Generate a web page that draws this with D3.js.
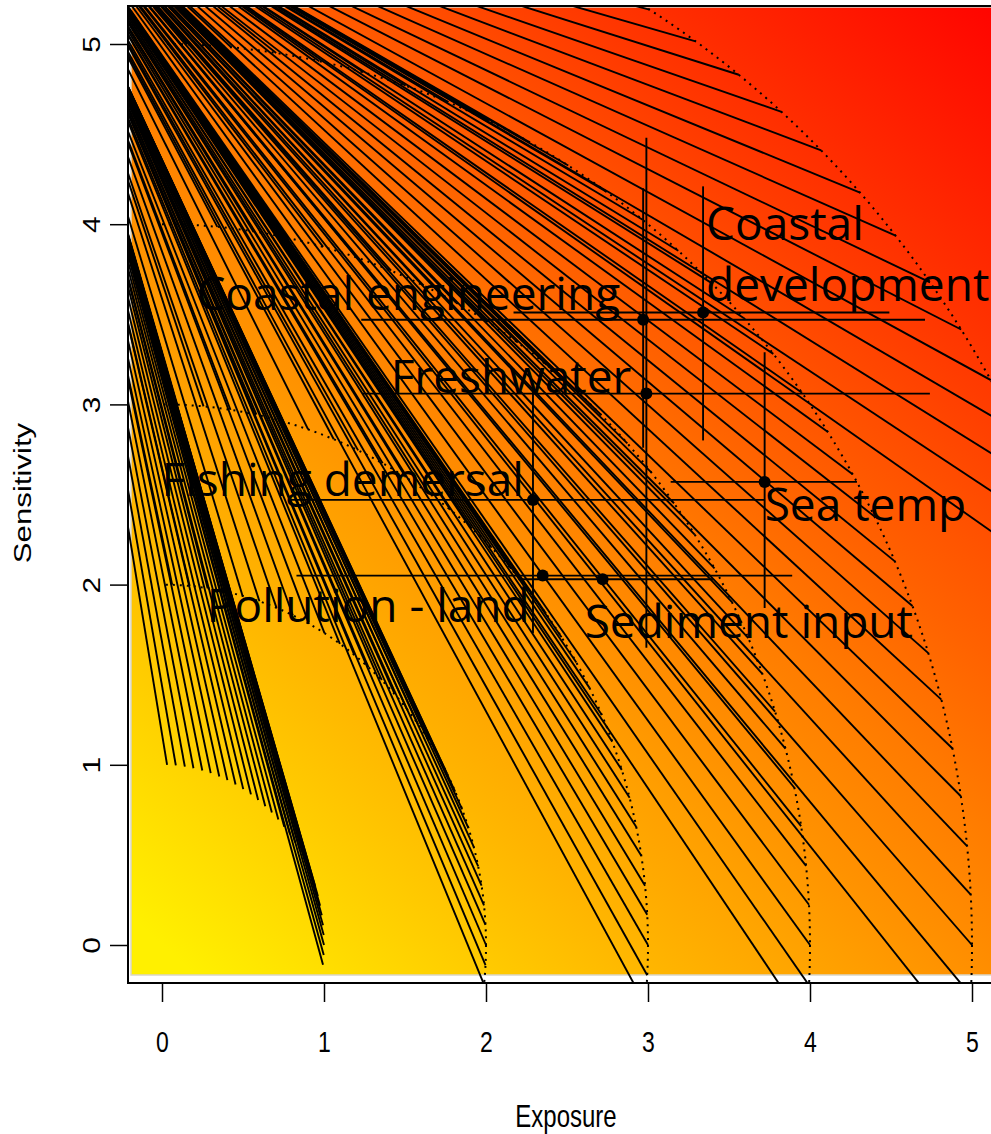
<!DOCTYPE html>
<html>
<head>
<meta charset="utf-8">
<script src="https://cdn.jsdelivr.net/npm/d3@7"></script>
<style>
  body { margin: 0; background: #fff; }
  svg { display: block; }
</style>
</head>
<body>
<svg id="chart" width="991" height="1134"></svg>
<script>
// ---- Pressures: exposure / sensitivity estimates with their ranges ----
const pressures       = ["Coastal engineering", "Coastal development", "Freshwater", "Fishing demersal", "Sea temp", "Pollution - land", "Sediment input"];
const exposure        = [2.97, 3.34, 2.99, 2.29, 3.72, 2.35, 2.72];
const exposureLow     = [1.23, 2.17, 1.24, 0.79, 3.14, 0.83, 2.20];
const exposureHigh    = [4.71, 4.49, 4.74, 3.72, 4.29, 3.89, 3.40];
const sensitivity     = [3.47, 3.51, 3.06, 2.47, 2.57, 2.05, 2.03];
const sensitivityLow  = [2.76, 2.80, 1.65, 1.73, 1.87, 2.05, 2.03];
const sensitivityHigh = [4.20, 4.21, 4.48, 3.09, 3.29, 2.05, 2.03];

// ---- Vulnerability levels (radius in exposure/sensitivity space) ----
const vulnerabilityLevels = [1, 2, 3, 4, 5, 6];
const dottedLevels        = [2, 3, 4, 5, 6];
// Sight lines: from a common origin to points on each level, at these angles (degrees)
const rayOrigin   = [-0.9, 6.1];
const rayAngles   = [-6.3, -3.2, 0.0, 3.2, 6.3, 9.5, 12.6, 15.8, 18.9, 22.1, 25.2, 28.4, 31.5, 34.7, 37.8,
                     41.0, 44.1, 47.3, 50.4, 53.6, 56.7, 59.9, 63.0, 66.2, 69.3, 72.5, 75.6, 78.8, 81.9, 85.1, 88.2];
const rayMinAngle = [-6.3, -6.3, -6.3, -6.3, -6.3, 18.9];

// ---- Axes ----
const xTicks = [0, 1, 2, 3, 4, 5];
const yTicks = [0, 1, 2, 3, 4, 5];
const xTitle = "Exposure";
const yTitle = "Sensitivity";

// ---- Background colour ramp over a weighted exposure + sensitivity score ----
const rampWeights = [0.85, 1.05];           // exposure, sensitivity
const rampStops   = [0, 2.5, 5, 7.5, 10];
const rampColors  = ["#fff000", "#ffb400", "#ff7c00", "#ff3c00", "#ff0000"];

// ---------------------------------------------------------------------
const svg = d3.select("#chart");
const x = d3.scaleLinear().domain([0, 5]).range([162, 972]);
const y = d3.scaleLinear().domain([0, 5]).range([945, 44]);
const box = { left: 128, top: 6, right: 1000, bottom: 983 };
const rad = Math.PI / 180;

const colour = d3.scaleLinear().domain(rampStops).range(rampColors);
const defs = svg.append("defs");

// Linear gradient whose iso-lines follow the weighted score = const
const kx = x(1) - x(0), ky = y(0) - y(1);
const gx = rampWeights[0] / kx, gy = -rampWeights[1] / ky, g2 = gx * gx + gy * gy;
const scoreMax = rampStops[rampStops.length - 1];
const grad = defs.append("linearGradient")
  .attr("id", "bg").attr("gradientUnits", "userSpaceOnUse")
  .attr("x1", x(0)).attr("y1", y(0))
  .attr("x2", x(0) + gx * scoreMax / g2).attr("y2", y(0) + gy * scoreMax / g2);
d3.range(0, 21).forEach(i => {
  grad.append("stop").attr("offset", i / 20).attr("stop-color", colour(i / 20 * scoreMax));
});

defs.append("clipPath").attr("id", "plotClip").append("rect")
  .attr("x", box.left).attr("y", box.top)
  .attr("width", box.right - box.left).attr("height", box.bottom - box.top);
defs.append("clipPath").attr("id", "arcClip").append("rect")
  .attr("x", x(0)).attr("y", box.top)
  .attr("width", box.right - x(0)).attr("height", box.bottom - box.top);

// Plot background
svg.append("rect")
  .attr("x", box.left + 3).attr("y", box.top + 1)
  .attr("width", box.right - box.left).attr("height", box.bottom - box.top - 9)
  .attr("fill", "url(#bg)")
  .attr("stroke", "#d9d6c8").attr("stroke-width", 1.5);

// Sight lines to each vulnerability level
const rays = [];
vulnerabilityLevels.forEach((r, i) => {
  rayAngles.filter(a => a >= rayMinAngle[i]).forEach(a => rays.push({ r, a }));
});
svg.append("g").attr("clip-path", "url(#plotClip)")
  .selectAll("line").data(rays).join("line")
  .attr("x1", x(rayOrigin[0])).attr("y1", y(rayOrigin[1]))
  .attr("x2", d => x(d.r * Math.cos(d.a * rad)))
  .attr("y2", d => y(d.r * Math.sin(d.a * rad)))
  .attr("stroke", "#000").attr("stroke-width", 1.9);

// Dotted iso-vulnerability contours
svg.append("g").attr("clip-path", "url(#arcClip)")
  .selectAll("ellipse").data(dottedLevels).join("ellipse")
  .attr("cx", x(0)).attr("cy", y(0))
  .attr("rx", d => x(d) - x(0)).attr("ry", d => y(0) - y(d))
  .attr("fill", "none").attr("stroke", "#000")
  .attr("stroke-width", 2).attr("stroke-dasharray", "2,5");

// Error bars and points
const idx = d3.range(pressures.length);
const bars = svg.append("g").attr("stroke", "#000").attr("stroke-width", 1.9);
bars.selectAll("line.h").data(idx).join("line").attr("class", "h")
  .attr("x1", i => x(exposureLow[i])).attr("x2", i => x(exposureHigh[i]))
  .attr("y1", i => y(sensitivity[i])).attr("y2", i => y(sensitivity[i]));
bars.selectAll("line.v").data(idx).join("line").attr("class", "v")
  .attr("x1", i => x(exposure[i])).attr("x2", i => x(exposure[i]))
  .attr("y1", i => y(sensitivityLow[i])).attr("y2", i => y(sensitivityHigh[i]));
svg.append("g").selectAll("circle").data(idx).join("circle")
  .attr("cx", i => x(exposure[i])).attr("cy", i => y(sensitivity[i]))
  .attr("r", 6).attr("fill", "#000");

// Labels (pixel offsets from each point)
const labelLayout = [
  { anchor: "end",   dx: -23, dy: -10 },
  { anchor: "start", dx: 3,   dy: -72, lineGap: 61 },
  { anchor: "end",   dx: -15, dy: -1 },
  { anchor: "end",   dx: -9,  dy: -4 },
  { anchor: "start", dx: 0,   dy: 39 },
  { anchor: "end",   dx: -13, dy: 46 },
  { anchor: "start", dx: -18, dy: 59 }
];
const labelLines = pressures.map((p, i) => i === 1 ? p.split(" ") : [p]);
const labels = svg.append("g")
  .attr("font-family", "'Open Sans', 'Noto Sans', sans-serif")
  .attr("font-size", 46).attr("fill", "#000");
idx.forEach(i => {
  const L = labelLayout[i];
  const t = labels.append("text")
    .attr("text-anchor", L.anchor)
    .attr("x", x(exposure[i]) + L.dx)
    .attr("y", y(sensitivity[i]) + L.dy);
  labelLines[i].forEach((s, k) => {
    t.append("tspan").attr("x", x(exposure[i]) + L.dx)
      .attr("dy", k === 0 ? 0 : L.lineGap).text(s);
  });
});

// Box (left, top, bottom edges)
svg.append("path")
  .attr("d", `M${box.right},${box.top}H${box.left}V${box.bottom}H${box.right}`)
  .attr("fill", "none").attr("stroke", "#000").attr("stroke-width", 2);

// Axes
const axisFont = "'Liberation Sans', Arial, sans-serif";
const xAxis = svg.append("g").attr("transform", `translate(0,${box.bottom})`)
  .call(d3.axisBottom(x).tickValues(xTicks).tickFormat(d3.format("d")).tickSize(19).tickSizeOuter(0));
xAxis.select(".domain").remove();
xAxis.selectAll(".tick line").attr("stroke-width", 1.5);
xAxis.selectAll(".tick text")
  .attr("y", null).attr("dy", null)
  .attr("transform", "translate(0,69) scale(1,1.3)")
  .attr("font-family", axisFont).attr("font-size", 23).attr("fill", "#000");

const yAxis = svg.append("g").attr("transform", `translate(${box.left},0)`)
  .call(d3.axisLeft(y).tickValues(yTicks).tickFormat(d3.format("d")).tickSize(18).tickSizeOuter(0));
yAxis.select(".domain").remove();
yAxis.selectAll(".tick line").attr("stroke-width", 1.5);
yAxis.selectAll(".tick text")
  .attr("x", null).attr("dy", null).attr("text-anchor", "middle")
  .attr("transform", "translate(-28,0) scale(1,1.3) rotate(-90)")
  .attr("font-family", axisFont).attr("font-size", 23).attr("fill", "#000");

svg.append("text")
  .attr("transform", `translate(${(x(0) + x(5)) / 2 - 1},1127) scale(1,1.3)`)
  .attr("text-anchor", "middle")
  .attr("font-family", axisFont).attr("font-size", 24).text(xTitle);
svg.append("text")
  .attr("transform", `translate(31,493) scale(1,1.3) rotate(-90)`)
  .attr("text-anchor", "middle")
  .attr("font-family", axisFont).attr("font-size", 24).text(yTitle);
</script>
</body>
</html>
